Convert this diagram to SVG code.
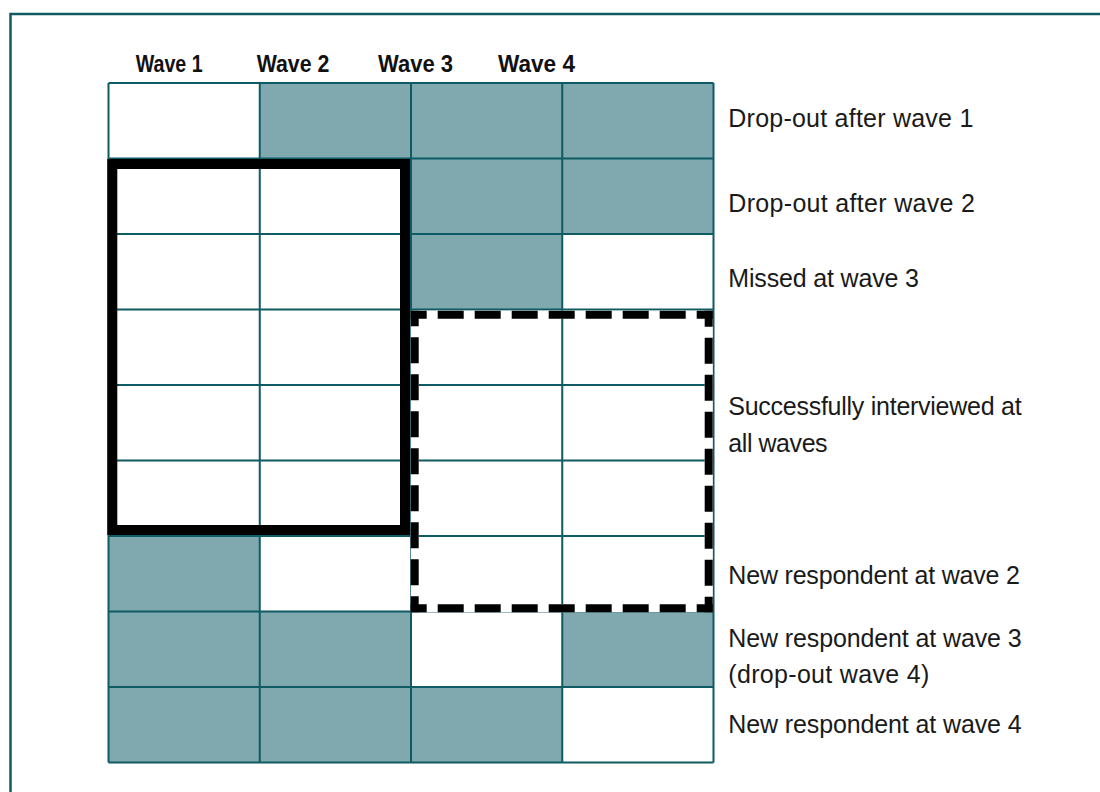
<svg xmlns="http://www.w3.org/2000/svg" width="1100" height="792" viewBox="0 0 1100 792">
<style>
.frame{fill:none;stroke:#0e5b63;stroke-width:2.5}
.t{fill:#7fa9ae}
.w{fill:#ffffff}
.grid{stroke:#0e5b63;stroke-width:2;fill:none}
.hdr{font-family:"Liberation Sans",Arial,sans-serif;font-weight:bold;font-size:24px;fill:#111}
.lbl{font-family:"Liberation Sans",Arial,sans-serif;font-size:25px;fill:#1a1a1a}
.thick{fill:none;stroke:#000;stroke-width:10}
.dashbg{fill:none;stroke:#fff;stroke-width:8}
.dash{stroke:#000;stroke-width:8;stroke-linecap:square;stroke-dasharray:18 19;stroke-dashoffset:10}
</style>
<rect width="1100" height="792" fill="#fff"/>
<path class="frame" d="M1100 14 H10.5 V792"/>
<g id="header">
<text class="hdr" x="135.7" y="72" textLength="67" lengthAdjust="spacingAndGlyphs">Wave 1</text>
<text class="hdr" x="256.7" y="72" textLength="72.6" lengthAdjust="spacingAndGlyphs">Wave 2</text>
<text class="hdr" x="378" y="72" textLength="75" lengthAdjust="spacingAndGlyphs">Wave 3</text>
<text class="hdr" x="498" y="72" textLength="77" lengthAdjust="spacingAndGlyphs">Wave 4</text>
</g>
<g id="row1">
<rect class="w" x="108.5" y="83" width="151.25" height="75.5"/>
<rect class="t" x="259.75" y="83" width="151.25" height="75.5"/>
<rect class="t" x="411" y="83" width="151.25" height="75.5"/>
<rect class="t" x="562.25" y="83" width="151.25" height="75.5"/>
<text class="lbl" x="728.3" y="127" textLength="245">Drop-out after wave 1</text>
</g>
<g id="row2">
<rect class="t" x="411" y="158.5" width="151.25" height="75.5"/>
<rect class="t" x="562.25" y="158.5" width="151.25" height="75.5"/>
<text class="lbl" x="728.3" y="212" textLength="246.7">Drop-out after wave 2</text>
</g>
<g id="row3">
<rect class="t" x="411" y="234" width="151.25" height="75.5"/>
<text class="lbl" x="728.3" y="287" textLength="190.7">Missed at wave 3</text>
</g>
<g id="rows4to6">
<text class="lbl" x="728.3" y="415" textLength="293.3">Successfully interviewed at</text>
<text class="lbl" x="728.3" y="451.7" textLength="99.3">all waves</text>
</g>
<g id="row7">
<rect class="t" x="108.5" y="536" width="151.25" height="75.5"/>
<text class="lbl" x="728.3" y="584" textLength="291.7">New respondent at wave 2</text>
</g>
<g id="row8">
<rect class="t" x="108.5" y="611.5" width="151.25" height="75.5"/>
<rect class="t" x="259.75" y="611.5" width="151.25" height="75.5"/>
<rect class="t" x="562.25" y="611.5" width="151.25" height="75.5"/>
<text class="lbl" x="728.3" y="646.7" textLength="293.3">New respondent at wave 3</text>
<text class="lbl" x="728.3" y="683" textLength="201">(drop-out wave 4)</text>
</g>
<g id="row9">
<rect class="t" x="108.5" y="687" width="151.25" height="75.5"/>
<rect class="t" x="259.75" y="687" width="151.25" height="75.5"/>
<rect class="t" x="411" y="687" width="151.25" height="75.5"/>
<text class="lbl" x="728.3" y="733.3" textLength="293.3">New respondent at wave 4</text>
</g>
<g id="grid">
<path class="grid" d="M108.5 83 H713.5 M108.5 158.5 H713.5 M108.5 234 H713.5 M108.5 309.5 H713.5 M108.5 385 H713.5 M108.5 460.5 H713.5 M108.5 536 H713.5 M108.5 611.5 H713.5 M108.5 687 H713.5 M108.5 762.5 H713.5 M108.5 83 V762.5 M259.75 83 V762.5 M411 83 V762.5 M562.25 83 V762.5 M713.5 83 V762.5"/>
</g>
<g id="box-waves1-2">
<rect class="thick" x="112.3" y="164" width="292.7" height="366"/>
</g>
<g id="box-waves3-4">
<rect class="dashbg" x="414.7" y="314.7" width="294" height="293.5"/>
<line class="dash" x1="414.7" y1="314.7" x2="708.7" y2="314.7"/>
<line class="dash" x1="708.7" y1="314.7" x2="708.7" y2="608.2"/>
<line class="dash" x1="708.7" y1="608.2" x2="414.7" y2="608.2"/>
<line class="dash" x1="414.7" y1="608.2" x2="414.7" y2="314.7"/>
</g>
</svg>
